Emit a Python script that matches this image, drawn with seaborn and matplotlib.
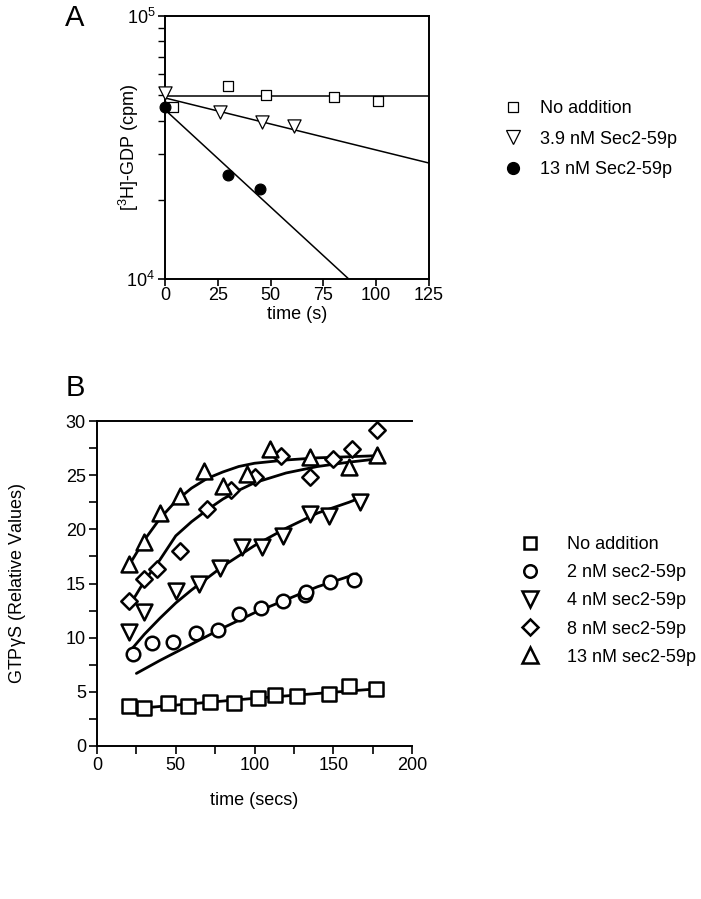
import numpy as np
import pandas as pd
import matplotlib
matplotlib.use("Agg")
import matplotlib.pyplot as plt
import seaborn as sns
from matplotlib.lines import Line2D
from matplotlib.ticker import MultipleLocator, LogLocator, NullFormatter, FixedLocator

# ---------------- Panel A data ----------------
a_labels = ["No addition", "3.9 nM Sec2-59p", "13 nM Sec2-59p"]
a_noadd_t = [4, 30, 48, 80, 101]
a_noadd_cpm = [45100, 54200, 50100, 49200, 47500]
a_39_t = [0, 26, 46, 61]
a_39_cpm = [50900, 43100, 39500, 38200]
a_13_t = [0, 30, 45]
a_13_cpm = [45100, 24800, 22000]
# fitted lines
a_fit_noadd_t = [0, 125]
a_fit_noadd_cpm = [49500, 49500]
a_fit_39_t = [0, 125]
a_fit_39_cpm = [48800, 27600]
a_fit_13_t = [0, 87]
a_fit_13_cpm = [44000, 10000]
a_xticks = [0, 25, 50, 75, 100, 125]

# ---------------- Panel B data ----------------
b_labels = ["No addition", "2 nM sec2-59p", "4 nM sec2-59p", "8 nM sec2-59p", "13 nM sec2-59p"]
b_noadd_t = [20, 30, 45, 58, 72, 87, 102, 113, 127, 147, 160, 177]
b_noadd_v = [3.7, 3.5, 4.0, 3.7, 4.1, 4.0, 4.4, 4.7, 4.6, 4.8, 5.5, 5.3]
b_2_t = [23, 35, 48, 63, 77, 90, 104, 118, 132, 133, 148, 163]
b_2_v = [8.5, 9.5, 9.6, 10.4, 10.7, 12.2, 12.7, 13.4, 13.9, 14.2, 15.1, 15.3]
b_4_t = [20, 30, 50, 65, 78, 92, 105, 118, 135, 147, 167]
b_4_v = [10.5, 12.4, 14.3, 15.0, 16.4, 18.4, 18.4, 19.4, 21.4, 21.2, 22.5]
b_8_t = [20, 30, 38, 53, 70, 85, 100, 117, 135, 150, 162, 178]
b_8_v = [13.4, 15.4, 16.3, 18.0, 21.9, 23.6, 24.8, 26.8, 24.8, 26.5, 27.4, 29.2]
b_13_t = [20, 30, 40, 53, 68, 80, 95, 110, 135, 160, 178]
b_13_v = [16.8, 18.8, 21.5, 23.1, 25.4, 24.0, 25.1, 27.4, 26.7, 25.8, 26.9]
# fitted curves
b_fit_noadd_t = [20, 60, 100, 140, 180]
b_fit_noadd_v = [3.4, 3.9, 4.4, 4.85, 5.3]
b_fit_2_t = [25, 40, 60, 80, 100, 120, 140, 165]
b_fit_2_v = [6.7, 7.9, 9.4, 10.9, 12.3, 13.5, 14.7, 15.9]
b_fit_4_t = [20, 30, 40, 50, 60, 80, 100, 120, 140, 160, 167]
b_fit_4_v = [8.6, 10.3, 11.8, 13.2, 14.4, 16.6, 18.5, 20.1, 21.5, 22.5, 22.9]
b_fit_8_t = [20, 30, 40, 50, 60, 70, 80, 90, 100, 120, 140, 160, 178]
b_fit_8_v = [12.8, 15.2, 17.2, 19.4, 20.7, 21.8, 22.8, 23.6, 24.3, 25.2, 25.8, 26.2, 26.5]
b_fit_13_t = [20, 30, 40, 50, 60, 70, 80, 90, 100, 120, 140, 160, 178]
b_fit_13_v = [16.6, 19.0, 21.0, 22.6, 23.8, 24.7, 25.3, 25.8, 26.1, 26.4, 26.6, 26.7, 26.8]

sns.set_theme(style="ticks")
plt.rcParams["font.family"] = ["Liberation Sans", "DejaVu Sans"]
plt.rcParams["mathtext.fontset"] = "custom"
plt.rcParams["mathtext.rm"] = "Liberation Sans"
plt.rcParams["mathtext.it"] = "Liberation Sans:italic"
plt.rcParams["mathtext.default"] = "regular"
plt.rcParams["axes.edgecolor"] = "black"
plt.rcParams["axes.linewidth"] = 1.4
plt.rcParams["xtick.color"] = "black"
plt.rcParams["ytick.color"] = "black"
plt.rcParams["text.color"] = "black"
plt.rcParams["axes.labelcolor"] = "black"

FS = 13
fig = plt.figure(figsize=(7.01, 8.99), dpi=100)

# ================= Panel A =================
A_L, A_R, A_T, A_B = 165, 429, 16, 279
axA = fig.add_axes([A_L/701, 1-A_B/899, (A_R-A_L)/701, (A_B-A_T)/899])
for t, v in [(a_fit_noadd_t, a_fit_noadd_cpm), (a_fit_39_t, a_fit_39_cpm), (a_fit_13_t, a_fit_13_cpm)]:
    sns.lineplot(x=t, y=v, ax=axA, color="black", linewidth=1.1, legend=False)
sns.scatterplot(x=a_noadd_t, y=a_noadd_cpm, ax=axA, marker="s", s=45, color="white",
                edgecolor="black", linewidth=0.9, clip_on=False, zorder=5)
sns.scatterplot(x=a_39_t, y=a_39_cpm, ax=axA, marker="v", s=90, color="white",
                edgecolor="black", linewidth=0.9, clip_on=False, zorder=5)
sns.scatterplot(x=a_13_t, y=a_13_cpm, ax=axA, marker="o", s=60, color="black",
                edgecolor="black", linewidth=0.9, clip_on=False, zorder=6)
axA.set_yscale("log")
axA.set_ylim(1e4, 1e5)
axA.set_xlim(0, 125)
axA.xaxis.set_major_locator(FixedLocator(a_xticks))
axA.yaxis.set_major_locator(LogLocator(base=10))
axA.yaxis.set_minor_locator(LogLocator(base=10, subs=np.arange(2, 10)))
axA.yaxis.set_minor_formatter(NullFormatter())
axA.tick_params(axis="both", which="major", direction="out", length=5, width=1.2,
                labelsize=FS, pad=2)
axA.tick_params(axis="x", which="major", pad=1)
axA.tick_params(axis="y", which="minor", direction="out", length=5, width=1.0)
axA.set_xlabel("time (s)", fontsize=FS)
axA.set_ylabel("[$^{3}$H]-GDP (cpm)", fontsize=FS)
axA.yaxis.set_label_coords((141 - A_L) / (A_R - A_L), 0.5)
axA.xaxis.set_label_coords(0.5, -(306 - A_B) / (A_B - A_T))
for sp in axA.spines.values():
    sp.set_visible(True)
    sp.set_linewidth(1.4)

hA = [Line2D([], [], linestyle="none", marker="s", markersize=7.5, markerfacecolor="white",
             markeredgecolor="black", markeredgewidth=0.9),
      Line2D([], [], linestyle="none", marker="v", markersize=10.5, markerfacecolor="white",
             markeredgecolor="black", markeredgewidth=0.9),
      Line2D([], [], linestyle="none", marker="o", markersize=8.5, markerfacecolor="black",
             markeredgecolor="black")]
fig.legend(hA, a_labels, loc="upper left", bbox_to_anchor=(502/701, 1-100/899), frameon=False,
           fontsize=FS, labelspacing=0.75, handletextpad=0.9, handlelength=1.2, borderpad=0,
           borderaxespad=0)

fig.text(75/701, 1-18/899, "A", fontsize=21, ha="center", va="center")

# ================= Panel B =================
B_L, B_R, B_T, B_B = 97, 412, 421, 746
axB = fig.add_axes([B_L/701, 1-B_B/899, (B_R-B_L)/701, (B_B-B_T)/899])
fits = [(b_fit_noadd_t, b_fit_noadd_v), (b_fit_2_t, b_fit_2_v), (b_fit_4_t, b_fit_4_v),
        (b_fit_8_t, b_fit_8_v), (b_fit_13_t, b_fit_13_v)]
for t, v in fits:
    sns.lineplot(x=t, y=v, ax=axB, color="black", linewidth=2.0, legend=False)
pts = [(b_noadd_t, b_noadd_v, "s", 95), (b_2_t, b_2_v, "o", 95), (b_4_t, b_4_v, "v", 130),
       (b_8_t, b_8_v, "D", 70), (b_13_t, b_13_v, "^", 130)]
for t, v, m, s in pts:
    sns.scatterplot(x=t, y=v, ax=axB, marker=m, s=s, color="white", edgecolor="black",
                    linewidth=1.8, clip_on=False, zorder=5)
axB.set_xlim(0, 200)
axB.set_ylim(0, 30)
axB.xaxis.set_major_locator(MultipleLocator(50))
axB.xaxis.set_minor_locator(MultipleLocator(25))
axB.yaxis.set_major_locator(MultipleLocator(5))
axB.yaxis.set_minor_locator(MultipleLocator(2.5))
axB.tick_params(axis="both", which="major", direction="out", length=6, width=1.2,
                labelsize=FS, pad=2)
axB.tick_params(axis="both", which="minor", direction="out", length=6, width=1.2)
axB.set_xlabel("time (secs)", fontsize=FS)
axB.set_ylabel("GTP$\\gamma$S (Relative Values)", fontsize=FS)
axB.yaxis.set_label_coords((28 - B_L) / (B_R - B_L), 0.5)
axB.xaxis.set_label_coords(0.5, -(792 - B_B) / (B_B - B_T))
axB.spines["right"].set_visible(False)
axB.spines["top"].set_visible(True)

hB = []
for m, ms in [("s", 9), ("o", 9), ("v", 11), ("D", 8), ("^", 11)]:
    hB.append(Line2D([], [], linestyle="none", marker=m, markersize=ms, markerfacecolor="white",
                     markeredgecolor="black", markeredgewidth=1.8))
fig.legend(hB, b_labels, loc="upper left", bbox_to_anchor=(519/701, 1-536/899), frameon=False,
           fontsize=FS, labelspacing=0.62, handletextpad=1.45, handlelength=1.2, borderpad=0,
           borderaxespad=0)

fig.text(75/701, 1-388/899, "B", fontsize=21, ha="center", va="center")

fig.savefig("out.png", dpi=100)
